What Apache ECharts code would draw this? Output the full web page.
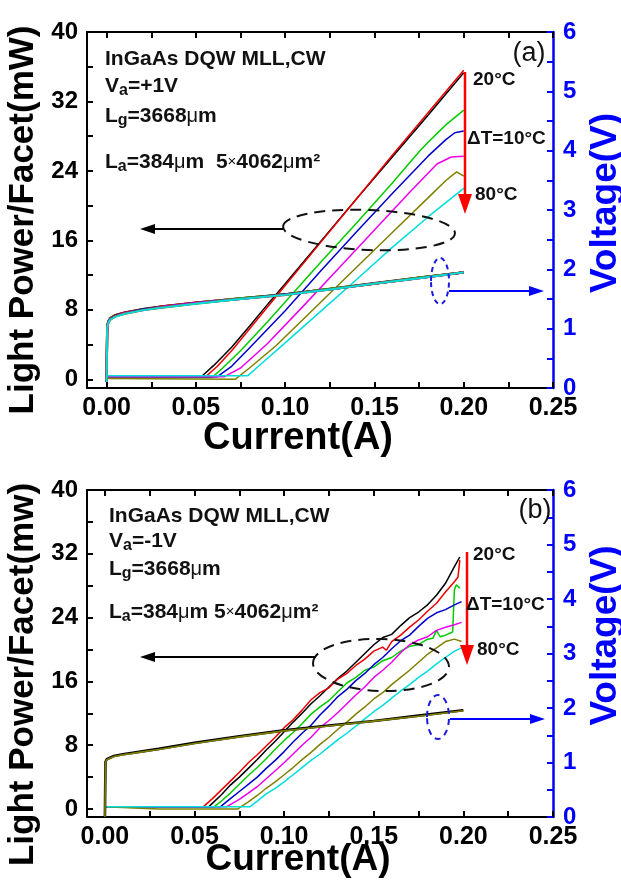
<!DOCTYPE html>
<html><head><meta charset="utf-8">
<script src="https://cdn.jsdelivr.net/npm/echarts@6/dist/echarts.min.js"></script>
<style>html,body{margin:0;padding:0;background:#fff}#c{width:621px;height:880px}</style>
</head><body><div id="c"></div>
<script>
// ---------- data ----------
const curveNames = ['20°C','30°C','40°C','50°C','60°C','70°C','80°C'];
const xLabelValues = [0, 0.05, 0.10, 0.15, 0.20, 0.25];
const xTickValues = [0, 0.025, 0.05, 0.075, 0.10, 0.125, 0.15, 0.175, 0.20, 0.225, 0.25];
const pLabelValues = [0, 8, 16, 24, 32, 40];
const pTickValues = [0, 4, 8, 12, 16, 20, 24, 28, 32, 36, 40];
const vLabelValues = [0, 1, 2, 3, 4, 5, 6];
const vTickValues = [0, 0.5, 1, 1.5, 2, 2.5, 3, 3.5, 4, 4.5, 5, 5.5, 6];

// panel (a): L-I curves [current A, power mW]
const liA1 = [[0,0.3],[0.053,0.3],[0.06,1.6],[0.07,3.7],[0.08,6.1],[0.09,8.6],[0.1,11.0],[0.12,15.9],[0.14,20.8],[0.16,25.6],[0.18,30.4],[0.2,35.3]];
const liA2 = [[0,0.4],[0.056,0.4],[0.062,1.5],[0.07,3.3],[0.08,5.8],[0.09,8.3],[0.1,10.8],[0.12,15.8],[0.14,20.8],[0.16,25.8],[0.18,30.7],[0.2,35.6]];
const liA3 = [[0,0.2],[0.059,0.2],[0.065,1.3],[0.075,3.3],[0.09,6.6],[0.1,8.9],[0.12,13.5],[0.14,18.0],[0.16,22.6],[0.175,26.2],[0.18,27.3],[0.19,29.3],[0.2,31.0]];
const liA4 = [[0,0.3],[0.062,0.3],[0.07,1.5],[0.08,3.6],[0.1,7.9],[0.12,12.5],[0.14,17.0],[0.16,21.4],[0.18,25.7],[0.19,27.6],[0.195,28.4],[0.2,28.6]];
const liA5 = [[0,0.3],[0.066,0.3],[0.075,1.3],[0.09,4.1],[0.11,8.4],[0.13,12.8],[0.15,17.2],[0.17,21.6],[0.185,24.8],[0.193,25.6],[0.2,25.7]];
const liA6 = [[0,0.1],[0.072,0.0],[0.08,1.3],[0.095,3.9],[0.116,8.1],[0.14,12.9],[0.16,16.9],[0.18,20.9],[0.19,22.9],[0.196,23.9],[0.2,23.4]];
const liA7 = [[0,0.4],[0.079,0.4],[0.085,1.5],[0.1,4.2],[0.123,8.4],[0.14,11.5],[0.16,15.2],[0.18,18.7],[0.2,22.0]];

// V-I curves, current grid (A) and voltages (V)
const vCurrent = [0, 0.0003, 0.001, 0.002, 0.005, 0.01, 0.02, 0.03, 0.05, 0.075, 0.1, 0.125, 0.15, 0.175, 0.2];
const vA1 = [0.1,1.05,1.13,1.18,1.23,1.27,1.33,1.37,1.44,1.51,1.58,1.67,1.77,1.86,1.95];
const vA2 = [0.1,1.05,1.12,1.17,1.23,1.27,1.32,1.37,1.44,1.51,1.58,1.67,1.76,1.86,1.95];
const vA3 = [0.1,1.04,1.12,1.17,1.22,1.26,1.32,1.36,1.43,1.51,1.58,1.67,1.76,1.86,1.95];
const vA4 = [0.1,1.04,1.11,1.16,1.22,1.26,1.32,1.36,1.43,1.50,1.58,1.66,1.76,1.85,1.95];
const vA5 = [0.1,1.03,1.11,1.16,1.21,1.26,1.31,1.36,1.43,1.50,1.57,1.66,1.76,1.85,1.95];
const vA6 = [0.1,1.03,1.10,1.15,1.21,1.25,1.31,1.35,1.42,1.50,1.57,1.66,1.76,1.85,1.95];
const vA7 = [0.1,1.02,1.10,1.15,1.20,1.25,1.31,1.35,1.42,1.50,1.57,1.66,1.76,1.85,1.95];

// panel (b): L-I curves
const liB1 = [[0,0.3],[0.058,0.3],[0.065,1.8],[0.07,3.0],[0.075,4.0],[0.08,5.1],[0.085,6.2],[0.09,7.4],[0.095,8.5],[0.1,9.7],[0.105,10.9],[0.11,12.0],[0.115,13.2],[0.12,14.2],[0.125,15.3],[0.13,16.4],[0.135,17.3],[0.14,18.4],[0.145,19.5],[0.15,20.6],[0.155,21.5],[0.16,21.9],[0.165,23.0],[0.17,24.0],[0.175,24.7],[0.18,25.6],[0.185,26.8],[0.19,28.3],[0.195,30.4],[0.198,31.6]];
const liB2 = [[0,0.3],[0.055,0.3],[0.06,1.3],[0.065,2.4],[0.07,3.5],[0.075,4.6],[0.08,5.8],[0.085,6.8],[0.09,7.9],[0.095,9.0],[0.1,10.2],[0.105,11.2],[0.11,12.4],[0.115,13.7],[0.12,14.6],[0.125,15.2],[0.13,16.3],[0.135,17.0],[0.14,18.0],[0.145,18.8],[0.15,19.8],[0.155,20.3],[0.157,19.9],[0.16,21.0],[0.165,21.8],[0.17,22.8],[0.175,23.7],[0.18,24.8],[0.185,25.8],[0.19,27.2],[0.195,28.5],[0.197,29.1],[0.198,31.2]];
const liB3 = [[0,0.3],[0.061,0.3],[0.065,1.0],[0.07,2.0],[0.075,3.1],[0.08,4.2],[0.085,5.2],[0.09,6.3],[0.095,7.5],[0.1,8.6],[0.105,9.6],[0.11,10.7],[0.115,11.9],[0.12,12.8],[0.125,13.6],[0.13,14.7],[0.135,15.8],[0.14,16.5],[0.145,17.4],[0.15,17.8],[0.155,18.6],[0.16,19.0],[0.165,19.8],[0.17,20.4],[0.175,20.6],[0.18,21.3],[0.183,21.4],[0.185,22.4],[0.187,21.6],[0.19,21.8],[0.194,22.2],[0.195,27.5],[0.196,28.1],[0.198,27.7]];
const liB4 = [[0,0.3],[0.0645,0.3],[0.07,1.3],[0.075,2.2],[0.08,3.1],[0.085,4.0],[0.09,5.1],[0.095,6.1],[0.1,7.2],[0.105,8.4],[0.11,9.5],[0.115,10.5],[0.12,11.8],[0.125,12.9],[0.13,14.1],[0.135,15.0],[0.14,16.1],[0.145,17.0],[0.15,18.1],[0.155,19.0],[0.16,20.1],[0.165,21.1],[0.17,21.8],[0.175,22.9],[0.18,23.9],[0.185,24.6],[0.19,25.0],[0.195,25.6],[0.199,26.0]];
const liB5 = [[0,0.3],[0.068,0.3],[0.075,1.2],[0.08,2.0],[0.085,2.8],[0.09,3.8],[0.095,4.8],[0.1,5.8],[0.105,6.9],[0.11,8.0],[0.115,9.0],[0.12,10.2],[0.125,11.1],[0.13,12.1],[0.135,13.2],[0.14,14.3],[0.145,15.3],[0.15,16.5],[0.155,17.4],[0.16,18.4],[0.165,19.6],[0.17,20.6],[0.175,21.2],[0.18,21.6],[0.185,22.4],[0.19,22.8],[0.195,23.1],[0.199,23.4]];
const liB6 = [[0,0.3],[0.03,0.0],[0.074,0.0],[0.08,0.9],[0.085,1.7],[0.09,2.6],[0.095,3.4],[0.1,4.3],[0.105,5.2],[0.11,6.2],[0.115,7.1],[0.12,8.1],[0.125,9.0],[0.13,10.0],[0.135,10.9],[0.14,11.9],[0.145,12.8],[0.15,13.8],[0.155,14.6],[0.16,15.6],[0.165,16.5],[0.17,17.4],[0.175,18.4],[0.18,19.4],[0.185,20.2],[0.19,21.0],[0.195,21.3],[0.199,21.0]];
const liB7 = [[0,0.3],[0.081,0.3],[0.085,1.0],[0.09,1.9],[0.095,2.6],[0.1,3.4],[0.105,4.3],[0.11,5.2],[0.115,6.1],[0.12,6.9],[0.125,7.8],[0.13,8.7],[0.135,9.5],[0.14,10.4],[0.145,11.3],[0.15,12.2],[0.155,13.0],[0.16,13.9],[0.165,14.8],[0.17,15.6],[0.175,16.5],[0.18,17.3],[0.185,18.2],[0.19,19.0],[0.195,19.8],[0.199,20.2]];
const vB1 = [0,1.01,1.06,1.09,1.12,1.15,1.20,1.25,1.36,1.48,1.59,1.68,1.76,1.86,1.96];
const vB6 = [0,1.00,1.05,1.08,1.11,1.14,1.19,1.24,1.35,1.47,1.58,1.67,1.76,1.85,1.95];

// ---------- styling ----------
const FONT = '"Liberation Sans", Arial, sans-serif';
const lineColors = ['#000000','#ee0000','#00cc00','#0000cc','#ee00ee','#808000','#00dddd'];
const BLUE = '#0000ff';

const chart = echarts.init(document.getElementById('c'), null, {renderer:'canvas'});

function xAxes(grid, xmin, nameGap, nameSize) {
  const base = {
    gridIndex: grid, type: 'value', min: xmin, max: 0.25,
    splitLine: {show:false},
    axisLine: {onZero:false, lineStyle:{color:'#000', width:2}},
    axisTick: {inside:true, length:6, customValues: xTickValues, lineStyle:{color:'#000', width:2}},
  };
  return [
    Object.assign({}, base, {
      position:'bottom',
      axisLabel: {customValues: xLabelValues, formatter: v => v.toFixed(2), color:'#000',
        fontSize:25, fontWeight:'bold', fontFamily:FONT, margin:8},
      name:'Current(A)', nameLocation:'middle', nameGap: nameGap, nameMoveOverlap:false,
      nameTextStyle:{fontSize:nameSize, fontWeight:'bold', fontFamily:FONT, color:'#000', padding:[0,44,0,0]}
    }),
    Object.assign({}, base, {position:'top', axisLabel:{show:false}})
  ];
}
function yAxes(grid, pName, shiftL, shiftR) {
  return [
    {gridIndex:grid, type:'value', min:-1, max:40, position:'left',
     splitLine:{show:false},
     axisLine:{onZero:false, lineStyle:{color:'#000', width:2}},
     axisTick:{inside:true, length:6, customValues:pTickValues, lineStyle:{color:'#000', width:2}},
     axisLabel:{customValues:pLabelValues, color:'#000', fontSize:24, fontWeight:'bold', fontFamily:FONT, margin:9},
     name:pName, nameLocation:'middle', nameGap:44, nameRotate:90,
     nameTextStyle:{fontSize:35, fontWeight:'bold', fontFamily:FONT, color:'#000', padding:[0,shiftL,0,0]}},
    {gridIndex:grid, type:'value', min:0, max:6, position:'right',
     splitLine:{show:false},
     axisLine:{onZero:false, lineStyle:{color:BLUE, width:2.5}},
     axisTick:{inside:true, length:6, customValues:vTickValues, lineStyle:{color:BLUE, width:2}},
     axisLabel:{customValues:vLabelValues, color:BLUE, fontSize:24, fontWeight:'bold', fontFamily:FONT, margin:10},
     name:'Voltage(V)', nameLocation:'middle', nameGap:30, nameRotate:90,
     nameTextStyle:{fontSize:37, fontWeight:'bold', fontFamily:FONT, color:BLUE, padding:[0,0,0,shiftR]}}
  ];
}

const series = [];
function addLI(arr, i, xi, yi) {
  series.push({name: curveNames[i], type:'line', xAxisIndex:xi, yAxisIndex:yi, data:arr,
    showSymbol:false, lineStyle:{color:lineColors[i], width:1.5}, z:2});
}
function addVI(arr, i, xi, yi, w) {
  series.push({name: curveNames[i]+' V', type:'line', xAxisIndex:xi, yAxisIndex:yi,
    data: vCurrent.map((c, k) => [c, arr[k]]),
    showSymbol:false, smooth:false, lineStyle:{color:lineColors[i], width:w}, z:3});
}
[liA1,liA2,liA3,liA4,liA5,liA6,liA7].forEach((a,i)=>addLI(a,i,0,0));
[vA1,vA2,vA3,vA4,vA5,vA6,vA7].forEach((a,i)=>addVI(a,i,0,1,i===6?1.8:2.2));
[liB1,liB2,liB3,liB4,liB5,liB6,liB7].forEach((a,i)=>addLI(a,i,2,2));
addVI(vB1,0,2,3,2.6);
addVI(vB6,5,2,3,1.6);

// ---------- annotations (pixel decorations) ----------
function arrow(x1,y1,x2,y2,color,w,hl,hw){
  const dx=x2-x1, dy=y2-y1, L=Math.hypot(dx,dy), ux=dx/L, uy=dy/L;
  const bx=x2-ux*hl, by=y2-uy*hl;
  return [
    {type:'line', shape:{x1,y1,x2:bx,y2:by}, style:{stroke:color, lineWidth:w}, z:10},
    {type:'polygon', shape:{points:[[x2,y2],[bx-uy*hw,by+ux*hw],[bx+uy*hw,by-ux*hw]]}, style:{fill:color}, z:10}
  ];
}
function ell(cx,cy,rx,ry,color,w,dash,rot){
  return {type:'ellipse', x:cx, y:cy, rotation:rot||0, shape:{cx:0,cy:0,rx,ry},
    style:{fill:null, stroke:color, lineWidth:w, lineDash:dash}, z:10};
}
const RICH = {
  m:{fontSize:21, fontWeight:'bold', fontFamily:FONT, color:'#111', lineHeight:26},
  s:{fontSize:16, fontWeight:'bold', fontFamily:FONT, color:'#111', verticalAlign:'bottom', lineHeight:16},
  u:{fontSize:20, fontWeight:'normal', fontFamily:FONT, color:'#111', lineHeight:26},
  x:{fontSize:15, fontWeight:'normal', fontFamily:FONT, color:'#111', lineHeight:26}
};
function txt(x,y,text,opt){
  return Object.assign({type:'text', x, y, z:11, style:Object.assign({text, rich:RICH, fill:'#111',
    fontSize:20, fontWeight:'bold', fontFamily:FONT, verticalAlign:'middle', align:'left'}, opt||{})});
}
const graphics = [].concat(
  // panel (a)
  txt(105,59,'{m|InGaAs DQW MLL,CW}'),
  txt(105,86,'{m|V}{s|a}{m|=+1V}'),
  txt(105,116,'{m|L}{s|g}{m|=3668}{u|μ}{m|m}'),
  txt(105,162,'{m|L}{s|a}{m|=384}{u|μ}{m|m  5}{x|×}{m|4062}{u|μ}{m|m²}'),
  txt(529,54,'(a)',{fontSize:27, fontWeight:'normal', align:'center'}),
  txt(473,80,'20°C',{fontSize:19}),
  txt(467,139,'ΔT=10°C',{fontSize:19}),
  txt(475,195,'80°C',{fontSize:19}),
  arrow(465,72,465,214,'#ff0000',2.5,20,7),
  ell(369,230,86,20,'#111',2,[11,7],-0.04),
  arrow(283,229,140,229,'#000',2,15,5),
  ell(440,281,9,23,'#1a1ae0',2,[5,4],0),
  arrow(449,291,544,291,BLUE,2.2,15,5),
  // panel (b)
  txt(109,516,'{m|InGaAs DQW MLL,CW}'),
  txt(109,541,'{m|V}{s|a}{m|=-1V}'),
  txt(109,569,'{m|L}{s|g}{m|=3668}{u|μ}{m|m}'),
  txt(109,612,'{m|L}{s|a}{m|=384}{u|μ}{m|m 5}{x|×}{m|4062}{u|μ}{m|m²}'),
  txt(535,511,'(b)',{fontSize:27, fontWeight:'normal', align:'center'}),
  txt(473,555,'20°C',{fontSize:19}),
  txt(466,605,'ΔT=10°C',{fontSize:19}),
  txt(477,650,'80°C',{fontSize:19}),
  arrow(467,552,467,665,'#ff0000',2.5,20,7),
  ell(381,665,68,26,'#111',2,[11,7],-0.03),
  arrow(316,657,140,657,'#000',2,15,5),
  ell(438,717,11,22,'#1a1ae0',2,[6,5],0),
  arrow(450,719,545,719,BLUE,2.2,15,5)
);

chart.setOption({
  animation:false,
  backgroundColor:'#fff',
  textStyle:{fontFamily:FONT},
  grid:[
    {left:87, top:32, width:466, height:356, outerBoundsMode:'none', containLabel:false},
    {left:87, top:490, width:466, height:327, outerBoundsMode:'none', containLabel:false}
  ],
  xAxis: [].concat(xAxes(0,-0.011,32,38), xAxes(1,-0.01,24,37)),
  yAxis: [].concat(yAxes(0,'Light Power/Facet(mW)',20,14), yAxes(1,'Light Power/Facet(mw)',42,36)),
  series,
  graphic: graphics
});
</script>
</body></html>
